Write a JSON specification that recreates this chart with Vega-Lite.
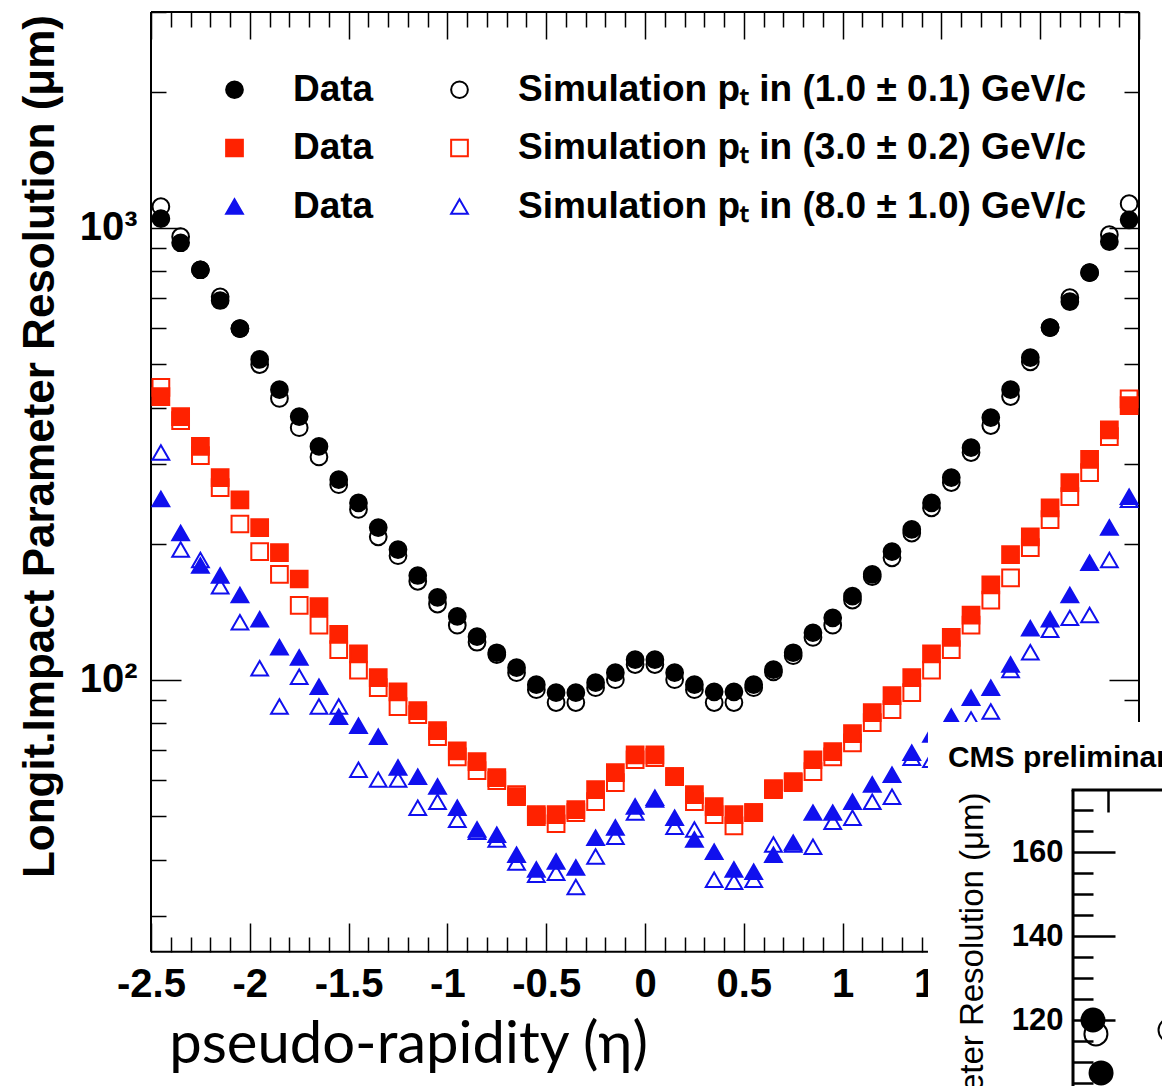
{
  "$schema": "https://vega.github.io/schema/vega-lite/v6.json",
  "width": 988,
  "height": 1074,
  "autosize": {"type": "none"},
  "padding": {"left": 151, "top": 12, "right": 23, "bottom": 0},
  "background": "white",
  "config": {"view": {"stroke": null}, "font": "Liberation Sans"},
  "datasets": {
    "main": [
      {"eta":-2.45,"series":"Sim 1","res":1113},{"eta":-2.35,"series":"Sim 1","res":955},{"eta":-2.25,"series":"Sim 1","res":807},{"eta":-2.15,"series":"Sim 1","res":703},{"eta":-2.05,"series":"Sim 1","res":598},
      {"eta":-1.95,"series":"Sim 1","res":498},{"eta":-1.85,"series":"Sim 1","res":419},{"eta":-1.75,"series":"Sim 1","res":361},{"eta":-1.65,"series":"Sim 1","res":311},{"eta":-1.55,"series":"Sim 1","res":270},
      {"eta":-1.45,"series":"Sim 1","res":238},{"eta":-1.35,"series":"Sim 1","res":207},{"eta":-1.25,"series":"Sim 1","res":188},{"eta":-1.15,"series":"Sim 1","res":165},{"eta":-1.05,"series":"Sim 1","res":147},
      {"eta":-0.95,"series":"Sim 1","res":132},{"eta":-0.85,"series":"Sim 1","res":121},{"eta":-0.75,"series":"Sim 1","res":113.6},{"eta":-0.65,"series":"Sim 1","res":103.6},{"eta":-0.55,"series":"Sim 1","res":95},
      {"eta":-0.45,"series":"Sim 1","res":89},{"eta":-0.35,"series":"Sim 1","res":89},{"eta":-0.25,"series":"Sim 1","res":96},{"eta":-0.15,"series":"Sim 1","res":100},{"eta":-0.05,"series":"Sim 1","res":108},
      {"eta":0.05,"series":"Sim 1","res":108},{"eta":0.15,"series":"Sim 1","res":100},{"eta":0.25,"series":"Sim 1","res":95},{"eta":0.35,"series":"Sim 1","res":89},{"eta":0.45,"series":"Sim 1","res":89},
      {"eta":0.55,"series":"Sim 1","res":96},{"eta":0.65,"series":"Sim 1","res":104},{"eta":0.75,"series":"Sim 1","res":113},{"eta":0.85,"series":"Sim 1","res":124},{"eta":0.95,"series":"Sim 1","res":132},
      {"eta":1.05,"series":"Sim 1","res":150},{"eta":1.15,"series":"Sim 1","res":169},{"eta":1.25,"series":"Sim 1","res":186},{"eta":1.35,"series":"Sim 1","res":211},{"eta":1.45,"series":"Sim 1","res":240},
      {"eta":1.55,"series":"Sim 1","res":273},{"eta":1.65,"series":"Sim 1","res":318},{"eta":1.75,"series":"Sim 1","res":365},{"eta":1.85,"series":"Sim 1","res":423},{"eta":1.95,"series":"Sim 1","res":505},
      {"eta":2.05,"series":"Sim 1","res":601},{"eta":2.15,"series":"Sim 1","res":700},{"eta":2.25,"series":"Sim 1","res":795},{"eta":2.35,"series":"Sim 1","res":965},{"eta":2.45,"series":"Sim 1","res":1130},

      {"eta":-2.45,"series":"Sim 3","res":443},{"eta":-2.35,"series":"Sim 3","res":374},{"eta":-2.25,"series":"Sim 3","res":313},{"eta":-2.15,"series":"Sim 3","res":266},{"eta":-2.05,"series":"Sim 3","res":221},
      {"eta":-1.95,"series":"Sim 3","res":192},{"eta":-1.85,"series":"Sim 3","res":171},{"eta":-1.75,"series":"Sim 3","res":146},{"eta":-1.65,"series":"Sim 3","res":132},{"eta":-1.55,"series":"Sim 3","res":116.5},
      {"eta":-1.45,"series":"Sim 3","res":105},{"eta":-1.35,"series":"Sim 3","res":96},{"eta":-1.25,"series":"Sim 3","res":87.2},{"eta":-1.15,"series":"Sim 3","res":83.7},{"eta":-1.05,"series":"Sim 3","res":74.8},
      {"eta":-0.95,"series":"Sim 3","res":67.5},{"eta":-0.85,"series":"Sim 3","res":62.9},{"eta":-0.75,"series":"Sim 3","res":59.8},{"eta":-0.65,"series":"Sim 3","res":55.7},{"eta":-0.55,"series":"Sim 3","res":49.8},
      {"eta":-0.45,"series":"Sim 3","res":48},{"eta":-0.35,"series":"Sim 3","res":50.8},{"eta":-0.25,"series":"Sim 3","res":53.7},{"eta":-0.15,"series":"Sim 3","res":59.2},{"eta":-0.05,"series":"Sim 3","res":66.5},
      {"eta":0.05,"series":"Sim 3","res":67.2},{"eta":0.15,"series":"Sim 3","res":61},{"eta":0.25,"series":"Sim 3","res":53.7},{"eta":0.35,"series":"Sim 3","res":50.3},{"eta":0.45,"series":"Sim 3","res":47.5},
      {"eta":0.55,"series":"Sim 3","res":50.8},{"eta":0.65,"series":"Sim 3","res":57.4},{"eta":0.75,"series":"Sim 3","res":59.2},{"eta":0.85,"series":"Sim 3","res":62.6},{"eta":0.95,"series":"Sim 3","res":67.5},
      {"eta":1.05,"series":"Sim 3","res":72.5},{"eta":1.15,"series":"Sim 3","res":80.3},{"eta":1.25,"series":"Sim 3","res":85.8},{"eta":1.35,"series":"Sim 3","res":93.6},{"eta":1.45,"series":"Sim 3","res":105},
      {"eta":1.55,"series":"Sim 3","res":116.5},{"eta":1.65,"series":"Sim 3","res":132},{"eta":1.75,"series":"Sim 3","res":150},{"eta":1.85,"series":"Sim 3","res":168},{"eta":1.95,"series":"Sim 3","res":196},
      {"eta":2.05,"series":"Sim 3","res":226},{"eta":2.15,"series":"Sim 3","res":254},{"eta":2.25,"series":"Sim 3","res":287},{"eta":2.35,"series":"Sim 3","res":345},{"eta":2.45,"series":"Sim 3","res":418},

      {"eta":-2.45,"series":"Sim 8","res":318},{"eta":-2.35,"series":"Sim 8","res":194},{"eta":-2.25,"series":"Sim 8","res":184},{"eta":-2.15,"series":"Sim 8","res":161},{"eta":-2.05,"series":"Sim 8","res":134},
      {"eta":-1.95,"series":"Sim 8","res":106},{"eta":-1.85,"series":"Sim 8","res":87.2},{"eta":-1.75,"series":"Sim 8","res":101.5},{"eta":-1.65,"series":"Sim 8","res":87.2},{"eta":-1.55,"series":"Sim 8","res":87.2},
      {"eta":-1.45,"series":"Sim 8","res":63.2},{"eta":-1.35,"series":"Sim 8","res":60.1},{"eta":-1.25,"series":"Sim 8","res":60.1},{"eta":-1.15,"series":"Sim 8","res":52.1},{"eta":-1.05,"series":"Sim 8","res":53.7},
      {"eta":-0.95,"series":"Sim 8","res":49},{"eta":-0.85,"series":"Sim 8","res":46.1},{"eta":-0.75,"series":"Sim 8","res":44.3},{"eta":-0.65,"series":"Sim 8","res":39.4},{"eta":-0.55,"series":"Sim 8","res":37},
      {"eta":-0.45,"series":"Sim 8","res":37.4},{"eta":-0.35,"series":"Sim 8","res":34.8},{"eta":-0.25,"series":"Sim 8","res":40.6},{"eta":-0.15,"series":"Sim 8","res":44.9},{"eta":-0.05,"series":"Sim 8","res":50.8},
      {"eta":0.05,"series":"Sim 8","res":54.3},{"eta":0.15,"series":"Sim 8","res":47.3},{"eta":0.25,"series":"Sim 8","res":46.6},{"eta":0.35,"series":"Sim 8","res":36.1},{"eta":0.45,"series":"Sim 8","res":35.7},
      {"eta":0.55,"series":"Sim 8","res":36.1},{"eta":0.65,"series":"Sim 8","res":43.2},{"eta":0.75,"series":"Sim 8","res":43.2},{"eta":0.85,"series":"Sim 8","res":42.7},{"eta":0.95,"series":"Sim 8","res":48.5},
      {"eta":1.05,"series":"Sim 8","res":49.5},{"eta":1.15,"series":"Sim 8","res":53.7},{"eta":1.25,"series":"Sim 8","res":55.1},{"eta":1.35,"series":"Sim 8","res":67.2},{"eta":1.45,"series":"Sim 8","res":66.5},
      {"eta":1.55,"series":"Sim 8","res":74.4},{"eta":1.65,"series":"Sim 8","res":81.6},{"eta":1.75,"series":"Sim 8","res":85},{"eta":1.85,"series":"Sim 8","res":105},{"eta":1.95,"series":"Sim 8","res":115},
      {"eta":2.05,"series":"Sim 8","res":129},{"eta":2.15,"series":"Sim 8","res":137},{"eta":2.25,"series":"Sim 8","res":139},{"eta":2.35,"series":"Sim 8","res":184},{"eta":2.45,"series":"Sim 8","res":250},

      {"eta":-2.45,"series":"Data 1","res":1047},{"eta":-2.35,"series":"Data 1","res":926},{"eta":-2.25,"series":"Data 1","res":807},{"eta":-2.15,"series":"Data 1","res":690},{"eta":-2.05,"series":"Data 1","res":598},
      {"eta":-1.95,"series":"Data 1","res":511},{"eta":-1.85,"series":"Data 1","res":438},{"eta":-1.75,"series":"Data 1","res":382},{"eta":-1.65,"series":"Data 1","res":328},{"eta":-1.55,"series":"Data 1","res":277},
      {"eta":-1.45,"series":"Data 1","res":246},{"eta":-1.35,"series":"Data 1","res":217},{"eta":-1.25,"series":"Data 1","res":194},{"eta":-1.15,"series":"Data 1","res":170},{"eta":-1.05,"series":"Data 1","res":152},
      {"eta":-0.95,"series":"Data 1","res":138},{"eta":-0.85,"series":"Data 1","res":124.5},{"eta":-0.75,"series":"Data 1","res":114.7},{"eta":-0.65,"series":"Data 1","res":106.3},{"eta":-0.55,"series":"Data 1","res":97.5},
      {"eta":-0.45,"series":"Data 1","res":93.6},{"eta":-0.35,"series":"Data 1","res":93.6},{"eta":-0.25,"series":"Data 1","res":98.5},{"eta":-0.15,"series":"Data 1","res":103.6},{"eta":-0.05,"series":"Data 1","res":110.7},
      {"eta":0.05,"series":"Data 1","res":110.7},{"eta":0.15,"series":"Data 1","res":103.6},{"eta":0.25,"series":"Data 1","res":97.5},{"eta":0.35,"series":"Data 1","res":94},{"eta":0.45,"series":"Data 1","res":94},
      {"eta":0.55,"series":"Data 1","res":97.5},{"eta":0.65,"series":"Data 1","res":105.2},{"eta":0.75,"series":"Data 1","res":114.7},{"eta":0.85,"series":"Data 1","res":127},{"eta":0.95,"series":"Data 1","res":137},
      {"eta":1.05,"series":"Data 1","res":153},{"eta":1.15,"series":"Data 1","res":171},{"eta":1.25,"series":"Data 1","res":192},{"eta":1.35,"series":"Data 1","res":215},{"eta":1.45,"series":"Data 1","res":246},
      {"eta":1.55,"series":"Data 1","res":280},{"eta":1.65,"series":"Data 1","res":326},{"eta":1.75,"series":"Data 1","res":380},{"eta":1.85,"series":"Data 1","res":438},{"eta":1.95,"series":"Data 1","res":516},
      {"eta":2.05,"series":"Data 1","res":601},{"eta":2.15,"series":"Data 1","res":686},{"eta":2.25,"series":"Data 1","res":795},{"eta":2.35,"series":"Data 1","res":931},{"eta":2.45,"series":"Data 1","res":1041},

      {"eta":-2.45,"series":"Data 3","res":423},{"eta":-2.35,"series":"Data 3","res":382},{"eta":-2.25,"series":"Data 3","res":328},{"eta":-2.15,"series":"Data 3","res":280},{"eta":-2.05,"series":"Data 3","res":250},
      {"eta":-1.95,"series":"Data 3","res":217},{"eta":-1.85,"series":"Data 3","res":191},{"eta":-1.75,"series":"Data 3","res":167},{"eta":-1.65,"series":"Data 3","res":145},{"eta":-1.55,"series":"Data 3","res":126},
      {"eta":-1.45,"series":"Data 3","res":114},{"eta":-1.35,"series":"Data 3","res":101},{"eta":-1.25,"series":"Data 3","res":94},{"eta":-1.15,"series":"Data 3","res":85.4},{"eta":-1.05,"series":"Data 3","res":77.1},
      {"eta":-0.95,"series":"Data 3","res":69.6},{"eta":-0.85,"series":"Data 3","res":65.9},{"eta":-0.75,"series":"Data 3","res":60.7},{"eta":-0.65,"series":"Data 3","res":55.1},{"eta":-0.55,"series":"Data 3","res":50.3},
      {"eta":-0.45,"series":"Data 3","res":50.3},{"eta":-0.35,"series":"Data 3","res":51.6},{"eta":-0.25,"series":"Data 3","res":57.1},{"eta":-0.15,"series":"Data 3","res":62.3},{"eta":-0.05,"series":"Data 3","res":68.2},
      {"eta":0.05,"series":"Data 3","res":68.2},{"eta":0.15,"series":"Data 3","res":61},{"eta":0.25,"series":"Data 3","res":55.7},{"eta":0.35,"series":"Data 3","res":52.4},{"eta":0.45,"series":"Data 3","res":50.3},
      {"eta":0.55,"series":"Data 3","res":50.8},{"eta":0.65,"series":"Data 3","res":57.1},{"eta":0.75,"series":"Data 3","res":59.5},{"eta":0.85,"series":"Data 3","res":66.5},{"eta":0.95,"series":"Data 3","res":69.3},
      {"eta":1.05,"series":"Data 3","res":76},{"eta":1.15,"series":"Data 3","res":84.5},{"eta":1.25,"series":"Data 3","res":92.2},{"eta":1.35,"series":"Data 3","res":101},{"eta":1.45,"series":"Data 3","res":114},
      {"eta":1.55,"series":"Data 3","res":124},{"eta":1.65,"series":"Data 3","res":139},{"eta":1.75,"series":"Data 3","res":162},{"eta":1.85,"series":"Data 3","res":189},{"eta":1.95,"series":"Data 3","res":207},
      {"eta":2.05,"series":"Data 3","res":240},{"eta":2.15,"series":"Data 3","res":273},{"eta":2.25,"series":"Data 3","res":307},{"eta":2.35,"series":"Data 3","res":357},{"eta":2.45,"series":"Data 3","res":404},

      {"eta":-2.45,"series":"Data 8","res":251},{"eta":-2.35,"series":"Data 8","res":211},{"eta":-2.25,"series":"Data 8","res":179},{"eta":-2.15,"series":"Data 8","res":170},{"eta":-2.05,"series":"Data 8","res":154},
      {"eta":-1.95,"series":"Data 8","res":136},{"eta":-1.85,"series":"Data 8","res":118},{"eta":-1.75,"series":"Data 8","res":112},{"eta":-1.65,"series":"Data 8","res":96.5},{"eta":-1.55,"series":"Data 8","res":82.8},
      {"eta":-1.45,"series":"Data 8","res":79.1},{"eta":-1.35,"series":"Data 8","res":74.8},{"eta":-1.25,"series":"Data 8","res":63.9},{"eta":-1.15,"series":"Data 8","res":61},{"eta":-1.05,"series":"Data 8","res":58},
      {"eta":-0.95,"series":"Data 8","res":52.1},{"eta":-0.85,"series":"Data 8","res":46.6},{"eta":-0.75,"series":"Data 8","res":45.4},{"eta":-0.65,"series":"Data 8","res":41},{"eta":-0.55,"series":"Data 8","res":38},
      {"eta":-0.45,"series":"Data 8","res":39.6},{"eta":-0.35,"series":"Data 8","res":38.4},{"eta":-0.25,"series":"Data 8","res":44.7},{"eta":-0.15,"series":"Data 8","res":47.1},{"eta":-0.05,"series":"Data 8","res":52.4},
      {"eta":0.05,"series":"Data 8","res":54.8},{"eta":0.15,"series":"Data 8","res":49.5},{"eta":0.25,"series":"Data 8","res":44.3},{"eta":0.35,"series":"Data 8","res":41.6},{"eta":0.45,"series":"Data 8","res":38},
      {"eta":0.55,"series":"Data 8","res":37.6},{"eta":0.65,"series":"Data 8","res":41},{"eta":0.75,"series":"Data 8","res":43.6},{"eta":0.85,"series":"Data 8","res":50.8},{"eta":0.95,"series":"Data 8","res":50.8},
      {"eta":1.05,"series":"Data 8","res":53.7},{"eta":1.15,"series":"Data 8","res":58.6},{"eta":1.25,"series":"Data 8","res":61.6},{"eta":1.35,"series":"Data 8","res":68.9},{"eta":1.45,"series":"Data 8","res":75.6},
      {"eta":1.55,"series":"Data 8","res":82.8},{"eta":1.65,"series":"Data 8","res":91.2},{"eta":1.75,"series":"Data 8","res":96},{"eta":1.85,"series":"Data 8","res":108},{"eta":1.95,"series":"Data 8","res":130},
      {"eta":2.05,"series":"Data 8","res":136},{"eta":2.15,"series":"Data 8","res":154},{"eta":2.25,"series":"Data 8","res":181.5},{"eta":2.35,"series":"Data 8","res":217},{"eta":2.45,"series":"Data 8","res":254}
    ],
    "inset": [
      {"eta":2.282,"series":"Sim 1","res":116.7},
      {"eta":2.657,"series":"Sim 1","res":117.6},
      {"eta":2.267,"series":"Data 1","res":120},
      {"eta":2.308,"series":"Data 1","res":107.4}
    ]
  },
  "resolve": {"scale": {"y": "independent"}, "axis": {"x": "independent", "y": "independent"}},
  "layer": [
    {
      "data": {"values": [{}]},
      "mark": {"type": "rule", "color": "black", "strokeWidth": 2},
      "encoding": {
        "x": {"datum": -2.5, "axis": null},
        "y": {"datum": 25, "scale": {"type": "log", "domain": [12.62, 3000], "nice": false}, "axis": null},
        "y2": {"datum": 3000}
      }
    },
    {
      "data": {"values": [{}]},
      "mark": {"type": "rule", "color": "black", "strokeWidth": 2},
      "encoding": {
        "x": {"datum": -2.5, "axis": null},
        "x2": {"datum": 2.5},
        "y": {"datum": 25, "scale": {"type": "log", "domain": [12.62, 3000], "nice": false}, "axis": null}
      }
    },
    {
      "data": {"values": [{}]},
      "mark": {"type": "rule", "color": "black", "strokeWidth": 2},
      "encoding": {
        "x": {"datum": -2.5, "axis": {
          "orient": "top", "title": null, "labels": false, "domain": false, "grid": false,
          "values": [-2.5,-2.4,-2.3,-2.2,-2.1,-2,-1.9,-1.8,-1.7,-1.6,-1.5,-1.4,-1.3,-1.2,-1.1,-1,-0.9,-0.8,-0.7,-0.6,-0.5,-0.4,-0.3,-0.2,-0.1,0,0.1,0.2,0.3,0.4,0.5,0.6,0.7,0.8,0.9,1,1.1,1.2,1.3,1.4,1.5,1.6,1.7,1.8,1.9,2,2.1,2.2,2.3,2.4,2.5],
          "tickSize": {"condition": {"test": "abs(datum.value*2 - round(datum.value*2)) < 0.01", "value": -27}, "value": -15},
          "tickWidth": 1.5, "tickColor": "black"
        }},
        "x2": {"datum": 2.5},
        "y": {"datum": 3000, "scale": {"type": "log", "domain": [12.62, 3000], "nice": false}, "axis": null}
      }
    },
    {
      "data": {"values": [{}]},
      "mark": {"type": "rule", "color": "black", "strokeWidth": 2},
      "encoding": {
        "x": {"datum": 2.5, "axis": null},
        "y": {"datum": 25, "scale": {"type": "log", "domain": [12.62, 3000], "nice": false}, "axis": {
          "orient": "right", "title": null, "labels": false, "domain": false, "grid": false,
          "values": [30,40,50,60,70,80,90,100,200,300,400,500,600,700,800,900,1000,2000,3000],
          "tickSize": {"condition": {"test": "datum.value == 100 || datum.value == 1000", "value": -30}, "value": -15},
          "tickWidth": 1.5, "tickColor": "black"
        }},
        "y2": {"datum": 3000}
      }
    },
    {
      "data": {"name": "main"},
      "mark": {"type": "point", "filled": true, "size": 280, "strokeWidth": 2, "opacity": 1},
      "encoding": {
        "x": {"field": "eta", "type": "quantitative", "scale": {"domain": [-2.5, 2.5], "nice": false, "zero": false}, "axis": {
          "orient": "bottom", "offset": -134, "domain": false, "grid": false,
          "values": [-2.5,-2.4,-2.3,-2.2,-2.1,-2,-1.9,-1.8,-1.7,-1.6,-1.5,-1.4,-1.3,-1.2,-1.1,-1,-0.9,-0.8,-0.7,-0.6,-0.5,-0.4,-0.3,-0.2,-0.1,0,0.1,0.2,0.3,0.4,0.5,0.6,0.7,0.8,0.9,1,1.1,1.2,1.3,1.4,1.5,1.6,1.7,1.8,1.9,2,2.1,2.2,2.3,2.4,2.5],
          "tickSize": {"condition": {"test": "abs(datum.value*2 - round(datum.value*2)) < 0.01", "value": -29}, "value": -15},
          "tickWidth": 1.5, "tickColor": "black",
          "labelExpr": "abs(datum.value*2 - round(datum.value*2)) < 0.01 ? '' + datum.value : ''",
          "labelFont": "Liberation Sans", "labelFontWeight": "bold", "labelFontSize": 40, "labelColor": "black",
          "labelPadding": 41, "labelFlush": false, "labelOverlap": false, "labelBound": false,
          "title": "pseudo-rapidity (η)", "titleFont": "Lato", "titleFontWeight": "normal", "titleFontSize": 58, "titleColor": "black",
          "titleX": 257, "titleY": 110, "titleAlign": "center", "titleBaseline": "alphabetic", "titleAngle": 0
        }},
        "y": {"field": "res", "type": "quantitative", "scale": {"type": "log", "domain": [12.62, 3000], "nice": false}, "axis": {
          "orient": "left", "domain": false, "grid": false,
          "values": [30,40,50,60,70,80,90,100,200,300,400,500,600,700,800,900,1000,2000,3000],
          "tickSize": {"condition": {"test": "datum.value == 100 || datum.value == 1000", "value": -30}, "value": -15},
          "tickWidth": 1.5, "tickColor": "black",
          "labelExpr": "datum.value == 100 ? '10²' : datum.value == 1000 ? '10³' : ''",
          "labelFont": "Liberation Sans", "labelFontWeight": "bold", "labelFontSize": 40, "labelColor": "black",
          "labelPadding": 44, "labelOverlap": false, "labelBound": false,
          "title": "Longit.Impact Parameter Resolution (μm)", "titleFont": "Liberation Sans", "titleFontWeight": "bold", "titleFontSize": 44, "titleColor": "black",
          "titleX": -98, "titleY": 434, "titleAlign": "center", "titleBaseline": "alphabetic", "titleAngle": 270
        }},
        "shape": {"field": "series", "type": "nominal",
          "scale": {"domain": ["Data 1","Data 3","Data 8","Sim 1","Sim 3","Sim 8"], "range": ["circle","square","triangle-up","circle","square","triangle-up"]},
          "legend": {"title": null, "orient": "none", "legendX": 65, "legendY": 59, "columns": 2, "columnPadding": 67, "rowPadding": 20.5, "labelOffset": 40, "padding": 0,
            "labelFont": "Liberation Sans", "labelFontWeight": "bold", "labelFontSize": 37, "labelColor": "black", "labelLimit": 1000,
            "symbolSize": 280, "symbolStrokeWidth": 2,
            "labelExpr": "datum.label == 'Sim 1' ? 'Simulation  pₜ in (1.0 ± 0.1) GeV/c' : datum.label == 'Sim 3' ? 'Simulation  pₜ in (3.0 ± 0.2) GeV/c' : datum.label == 'Sim 8' ? 'Simulation  pₜ in (8.0 ± 1.0) GeV/c' : 'Data'"}},
        "fill": {"field": "series", "type": "nominal",
          "scale": {"domain": ["Data 1","Data 3","Data 8","Sim 1","Sim 3","Sim 8"], "range": ["#000000","#ff2200","#1010ee","transparent","transparent","transparent"]},
          "legend": {"title": null, "orient": "none", "legendX": 65, "legendY": 59, "columns": 2, "columnPadding": 67, "rowPadding": 20.5, "labelOffset": 40, "padding": 0,
            "labelFont": "Liberation Sans", "labelFontWeight": "bold", "labelFontSize": 37, "labelColor": "black", "labelLimit": 1000,
            "symbolSize": 280, "symbolStrokeWidth": 2,
            "labelExpr": "datum.label == 'Sim 1' ? 'Simulation  pₜ in (1.0 ± 0.1) GeV/c' : datum.label == 'Sim 3' ? 'Simulation  pₜ in (3.0 ± 0.2) GeV/c' : datum.label == 'Sim 8' ? 'Simulation  pₜ in (8.0 ± 1.0) GeV/c' : 'Data'"}},
        "stroke": {"field": "series", "type": "nominal",
          "scale": {"domain": ["Data 1","Data 3","Data 8","Sim 1","Sim 3","Sim 8"], "range": ["#000000","#ff2200","#1010ee","#000000","#ff2200","#1010ee"]},
          "legend": {"title": null, "orient": "none", "legendX": 65, "legendY": 59, "columns": 2, "columnPadding": 67, "rowPadding": 20.5, "labelOffset": 40, "padding": 0,
            "labelFont": "Liberation Sans", "labelFontWeight": "bold", "labelFontSize": 37, "labelColor": "black", "labelLimit": 1000,
            "symbolSize": 280, "symbolStrokeWidth": 2,
            "labelExpr": "datum.label == 'Sim 1' ? 'Simulation  pₜ in (1.0 ± 0.1) GeV/c' : datum.label == 'Sim 3' ? 'Simulation  pₜ in (3.0 ± 0.2) GeV/c' : datum.label == 'Sim 8' ? 'Simulation  pₜ in (8.0 ± 1.0) GeV/c' : 'Data'"}}
      }
    },
    {
      "data": {"values": [{}]},
      "mark": {"type": "rect", "fill": "white"},
      "encoding": {
        "x": {"datum": 1.432, "axis": null},
        "x2": {"datum": 2.75},
        "y": {"datum": 190.95, "scale": {"type": "linear", "domain": [104.29, 360], "nice": false, "zero": false}, "axis": null},
        "y2": {"datum": 90}
      }
    },
    {
      "data": {"values": [{}]},
      "mark": {"type": "rule", "color": "black", "strokeWidth": 3},
      "encoding": {
        "x": {"datum": 2.166, "axis": null},
        "y": {"datum": 95, "scale": {"type": "linear", "domain": [104.29, 360], "nice": false, "zero": false}, "axis": null},
        "y2": {"datum": 174.76}
      }
    },
    {
      "data": {"values": [{}]},
      "mark": {"type": "rule", "color": "black", "strokeWidth": 3},
      "encoding": {
        "x": {"datum": 2.159, "axis": {
          "orient": "top", "offset": -778, "title": null, "labels": false, "domain": false, "grid": false,
          "values": [2.343], "tickSize": -22, "tickWidth": 2.5, "tickColor": "black", "zindex": 1
        }},
        "x2": {"datum": 2.75},
        "y": {"datum": 174.76, "scale": {"type": "linear", "domain": [104.29, 360], "nice": false, "zero": false}, "axis": null}
      }
    },
    {
      "data": {"values": [{}]},
      "mark": {"type": "text", "text": "CMS preliminary", "align": "left", "baseline": "alphabetic", "font": "Liberation Sans", "fontWeight": "bold", "fontSize": 30, "color": "black"},
      "encoding": {
        "x": {"datum": 1.533, "axis": null},
        "y": {"datum": 180.24, "scale": {"type": "linear", "domain": [104.29, 360], "nice": false, "zero": false}, "axis": null}
      }
    },
    {
      "data": {"name": "inset"},
      "mark": {"type": "point", "filled": true, "size": 529, "strokeWidth": 2, "opacity": 1},
      "encoding": {
        "x": {"field": "eta", "type": "quantitative", "axis": null},
        "y": {"field": "res", "type": "quantitative", "scale": {"type": "linear", "domain": [104.29, 360], "nice": false, "zero": false}, "axis": {
          "orient": "left", "offset": -922, "domain": false, "grid": false, "zindex": 1,
          "values": [105,110,115,120,125,130,135,140,145,150,155,160,165,170],
          "tickSize": {"condition": {"test": "datum.value % 20 == 0", "value": -42}, "value": -20},
          "tickWidth": 2.5, "tickColor": "black",
          "labelExpr": "datum.value % 20 == 0 ? '' + datum.value : ''",
          "labelFont": "Liberation Sans", "labelFontWeight": "bold", "labelFontSize": 31, "labelColor": "black",
          "labelPadding": 52, "labelOverlap": false, "labelBound": false,
          "title": "Impact Parameter Resolution (μm)", "titleFont": "Liberation Sans", "titleFontWeight": "normal", "titleFontSize": 33, "titleColor": "black",
          "titleX": -91, "titleY": 780, "titleAlign": "right", "titleBaseline": "alphabetic", "titleAngle": 270
        }},
        "shape": {"field": "series", "type": "nominal", "legend": null},
        "fill": {"field": "series", "type": "nominal", "legend": null},
        "stroke": {"field": "series", "type": "nominal", "legend": null}
      }
    }
  ]
}
